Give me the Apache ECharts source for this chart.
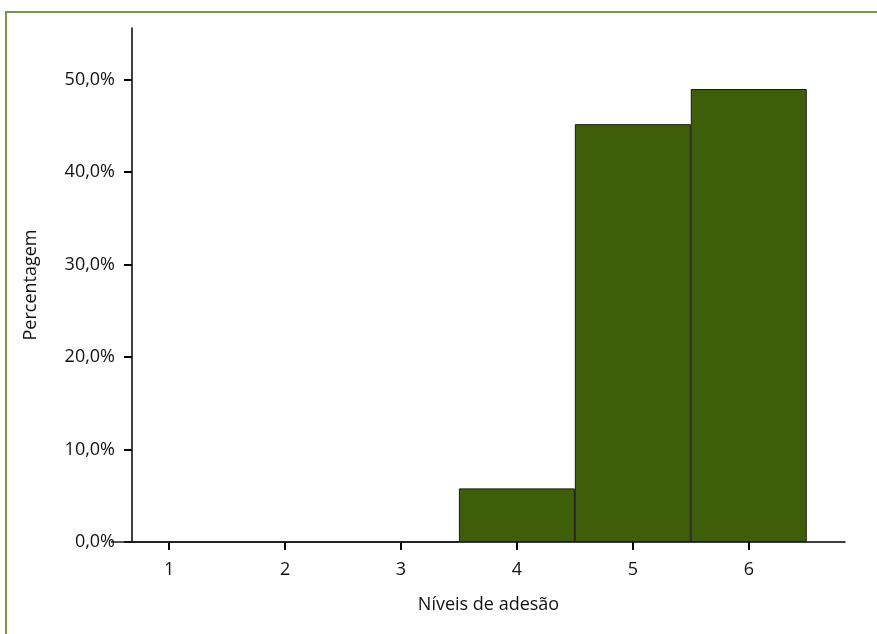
<!DOCTYPE html>
<html>
<head>
<meta charset="utf-8">
<script src="https://cdn.jsdelivr.net/npm/echarts@6/dist/echarts.min.js"></script>
<style>
html,body{margin:0;padding:0;background:#fff;}
#c{width:877px;height:634px;}
</style>
</head>
<body>
<div id="c"></div>
<script>
const categories = [1, 2, 3, 4, 5, 6];
const percentages = [0, 0, 0, 5.8, 45.2, 49.0];
const yTicks = [0, 10, 20, 30, 40, 50];
const xTitle = 'Níveis de adesão';
const yTitle = 'Percentagem';

const chart = echarts.init(document.getElementById('c'), null, {renderer: 'canvas'});
const font = '"Open Sans", "Noto Sans", sans-serif';
chart.setOption({
  animation: false,
  backgroundColor: '#fff',
  graphic: [{
    type: 'polyline',
    shape: {points: [[6, 640], [6, 12], [880, 12]]},
    style: {stroke: '#76964a', lineWidth: 2, fill: null}
  }],
  grid: {left: 132, top: 28, right: 32, bottom: 92, containLabel: false},
  xAxis: {
    type: 'value',
    min: 0.68,
    max: 6.83,
    name: xTitle,
    nameLocation: 'middle',
    nameGap: 54,
    nameTextStyle: {color: '#111', fontSize: 18, fontFamily: font},
    axisLine: {show: true, lineStyle: {color: '#000', width: 1.5}},
    axisTick: {show: true, length: 8, customValues: categories, lineStyle: {color: '#000', width: 2}},
    axisLabel: {customValues: categories, margin: 19, color: '#111', fontSize: 18, fontFamily: font},
    splitLine: {show: false}
  },
  yAxis: {
    type: 'value',
    min: 0,
    max: 55.6,
    name: yTitle,
    nameLocation: 'middle',
    nameGap: 92,
    nameTextStyle: {color: '#111', fontSize: 18, fontFamily: font},
    axisLine: {show: true, lineStyle: {color: '#000', width: 1.5}},
    axisTick: {show: true, length: 8, customValues: yTicks, lineStyle: {color: '#000', width: 2}},
    axisLabel: {customValues: yTicks, margin: 17, color: '#111', fontSize: 18, fontFamily: font,
      formatter: v => v.toFixed(1).replace('.', ',') + '%'},
    splitLine: {show: false}
  },
  series: [{
    type: 'bar',
    data: categories.map((c, i) => [c, percentages[i]]),
    barWidth: 116,
    itemStyle: {color: '#3e5e0a', borderColor: '#1a1a1a', borderWidth: 1}
  }]
});
</script>
</body>
</html>
